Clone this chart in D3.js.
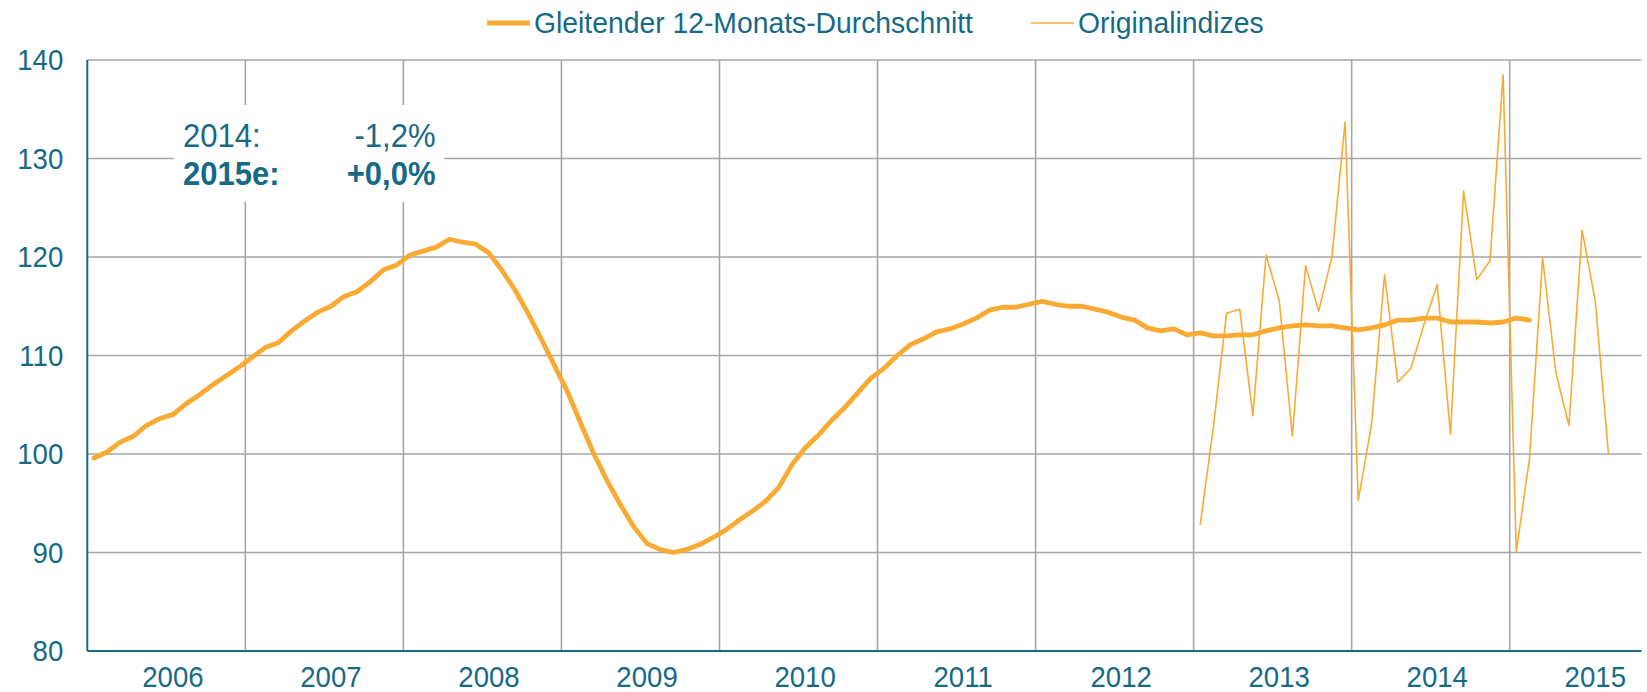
<!DOCTYPE html>
<html>
<head>
<meta charset="utf-8">
<script src="https://cdn.jsdelivr.net/npm/d3@7"></script>
<style>
    body { margin: 0; background: #fff; }
    svg text { font-family: "Liberation Sans", Arial, sans-serif; fill: #176a85; }
</style>
</head>
<body>
<div id="vis"></div>
<script>
// Years on the x axis, the axis runs up to October 2015
var years = ['2006', '2007', '2008', '2009', '2010', '2011', '2012', '2013', '2014', '2015'];
var lastMonth = '2015-10';

// Gleitender 12-Monats-Durchschnitt, monthly from 2006-01
var smoothed = [
    99.6, 100.2, 101.2, 101.8, 102.9, 103.6, 104.0, 105.1, 106.0, 107.0, 107.9, 108.8,
    109.8, 110.8, 111.3, 112.5, 113.5, 114.4, 115.0, 116.0, 116.5, 117.5, 118.7, 119.2,
    120.2, 120.6, 121.0, 121.8, 121.5, 121.3, 120.4, 118.6, 116.6, 114.2, 111.6, 108.9,
    106.2, 103.0, 99.9, 97.2, 94.8, 92.6, 90.9, 90.3, 90.0, 90.3, 90.8, 91.5,
    92.3, 93.3, 94.2, 95.2, 96.6, 98.9, 100.6, 101.9, 103.4, 104.7, 106.2, 107.7,
    108.7, 110.0, 111.1, 111.7, 112.4, 112.7, 113.2, 113.8, 114.6, 114.9, 114.9, 115.2,
    115.5, 115.2, 115.0, 115.0, 114.7, 114.4, 113.9, 113.6, 112.8, 112.5, 112.7, 112.1,
    112.3, 112.0, 112.0, 112.1, 112.1, 112.5, 112.8, 113.0, 113.1, 113.0, 113.0, 112.8,
    112.6, 112.8, 113.1, 113.6, 113.6, 113.8, 113.8, 113.4, 113.4, 113.4, 113.3, 113.4,
    113.8, 113.6
];
var smoothedStart = '2006-01';

// Originalindizes, monthly from 2013-01
var original = [
    92.8, 102.7, 114.3, 114.7, 103.9, 120.2, 115.6, 101.8, 119.1, 114.5, 120.0, 133.7,
    95.3, 102.9, 118.2, 107.3, 108.7, 113.2, 117.2, 102.0, 126.7, 117.7, 119.6, 138.5,
    90.1, 99.5, 119.9, 108.3, 102.9, 122.7, 115.5, 100.0
];
var originalStart = '2013-01';

var yTicks = [80, 90, 100, 110, 120, 130, 140];
var legendLabels = ['Gleitender 12-Monats-Durchschnitt', 'Originalindizes'];
var noteRows = [['2014:', '-1,2%'], ['2015e:', '+0,0%']];

var orange = '#f8aa33';
var teal = '#176a85';
var grid = '#a6a6a6';

// month keys for the category axis
var months = [];
years.forEach(function(y) {
    for (var m = 1; m <= 12; m++) {
        var key = y + '-' + (m < 10 ? '0' + m : m);
        if (key <= lastMonth) months.push(key);
    }
});

function toPoints(values, start) {
    var i0 = months.indexOf(start);
    return values.map(function(v, i) {
        return { month: months[i0 + i], value: v };
    });
}

// the fonts in the picture are a little narrower than Arial
function narrow(x, y, sx) {
    return 'translate(' + x + ',' + y + ') scale(' + sx + ',1)';
}

var width = 1647;
var height = 692;
var margin = { left: 87.3, top: 60, right: 5.6, bottom: 41 };
var drawWidth = width - margin.left - margin.right;
var drawHeight = height - margin.top - margin.bottom;

var svg = d3.select('#vis').append('svg')
    .attr('width', width)
    .attr('height', height);

var g = svg.append('g')
    .attr('transform', 'translate(' + margin.left + ',' + margin.top + ')');

var xScale = d3.scaleBand().domain(months).range([0, drawWidth]).padding(0);
var yScale = d3.scaleLinear().domain([80, 140]).range([drawHeight, 0]);
var bw = xScale.bandwidth();

// horizontal gridlines
g.selectAll('.hgrid').data(yTicks.slice(1)).enter().append('line')
    .attr('x1', 0).attr('x2', drawWidth)
    .attr('y1', function(d) { return yScale(d); })
    .attr('y2', function(d) { return yScale(d); })
    .attr('stroke', grid).attr('stroke-width', 1.6);

// vertical gridlines at the start of each year
g.selectAll('.vgrid').data(years.slice(1)).enter().append('line')
    .attr('x1', function(d) { return xScale(d + '-01'); })
    .attr('x2', function(d) { return xScale(d + '-01'); })
    .attr('y1', 0).attr('y2', drawHeight)
    .attr('stroke', grid).attr('stroke-width', 1.6);

// white box behind the note
g.append('rect')
    .attr('x', 174 - margin.left).attr('y', 105 - margin.top)
    .attr('width', 270).attr('height', 97)
    .attr('fill', '#fff');

// axis lines
g.append('line').attr('x1', 0).attr('x2', 0).attr('y1', 0).attr('y2', drawHeight)
    .attr('stroke', teal).attr('stroke-width', 2);
g.append('line').attr('x1', 0).attr('x2', drawWidth).attr('y1', drawHeight).attr('y2', drawHeight)
    .attr('stroke', teal).attr('stroke-width', 2);

var line = d3.line()
    .x(function(d) { return xScale(d.month) + bw / 2; })
    .y(function(d) { return yScale(d.value); });

g.append('path')
    .datum(toPoints(original, originalStart))
    .attr('d', line)
    .attr('fill', 'none')
    .attr('stroke', orange)
    .attr('stroke-width', 1.6)
    .attr('stroke-linejoin', 'round');

g.append('path')
    .datum(toPoints(smoothed, smoothedStart))
    .attr('d', line)
    .attr('fill', 'none')
    .attr('stroke', orange)
    .attr('stroke-width', 4.8)
    .attr('stroke-linejoin', 'round')
    .attr('stroke-linecap', 'round');

// y axis labels
var yAxis = d3.axisLeft(yScale).tickValues(yTicks).tickSize(0);
var yAxisG = g.append('g').call(yAxis);
yAxisG.select('.domain').remove();
yAxisG.selectAll('text')
    .attr('x', 0)
    .attr('transform', narrow(-24, 0, 0.92))
    .attr('font-size', 30)
    .style('font-family', '"Liberation Sans", Arial, sans-serif')
    .attr('fill', teal);

// x labels centred on July of each year
g.selectAll('.xlabel').data(years).enter().append('text')
    .attr('transform', function(d) { return narrow(xScale(d + '-07') + bw / 2, drawHeight + 36, 0.92); })
    .attr('text-anchor', 'middle')
    .attr('font-size', 30)
    .text(function(d) { return d; });

// note
noteRows.forEach(function(row, i) {
    var y = 147 + i * 38;
    var weight = i === 1 ? 'bold' : 'normal';
    svg.append('text').attr('transform', narrow(183, y, 0.94))
        .attr('font-size', 33).attr('font-weight', weight).text(row[0]);
    svg.append('text').attr('transform', narrow(435.5, y, 0.94))
        .attr('text-anchor', 'end')
        .attr('font-size', 33).attr('font-weight', weight).text(row[1]);
});

// legend
var legendX = [487, 1031];
legendLabels.forEach(function(label, i) {
    svg.append('line')
        .attr('x1', legendX[i]).attr('x2', legendX[i] + 43)
        .attr('y1', 23).attr('y2', 23)
        .attr('stroke', orange)
        .attr('stroke-width', i === 0 ? 4.8 : 1.6);
    svg.append('text')
        .attr('transform', narrow(legendX[i] + 47, 33, 0.944))
        .attr('font-size', 30)
        .text(label);
});
</script>
</body>
</html>
